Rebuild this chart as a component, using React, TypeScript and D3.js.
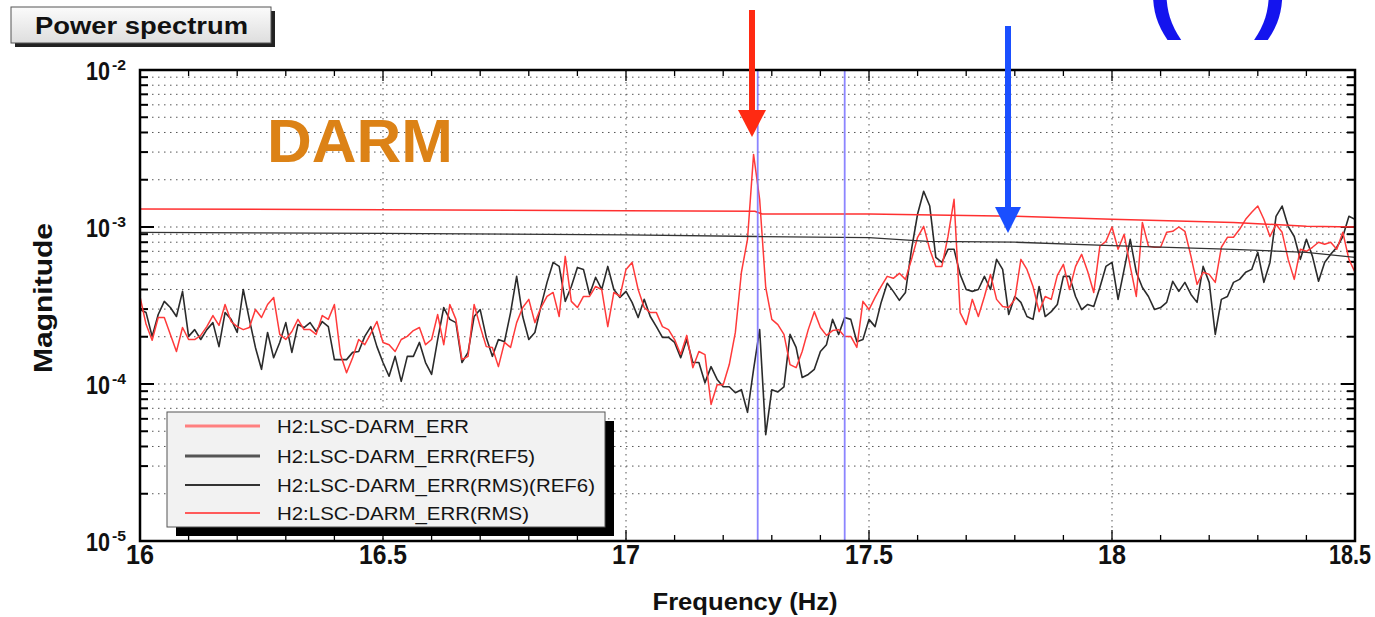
import React from "react";
import * as d3 from "d3";

// Spectrum bins: 16 Hz to 18.5 Hz, 0.0125 Hz apart
const FREQ_START = 16;
const FREQ_STEP = 0.0125;

// Magnitudes below are in units of 1e-4
const DARM_ERR = [
  3.6, 2.4, 1.9, 2.65, 2.65, 2.07, 1.61, 2.29, 1.92, 1.92,
  2.04, 2.32, 2.73, 2.36, 3.21, 2.5, 2.32, 2.22, 2.29, 2.98,
  2.65, 3.21, 3.56, 2.07, 1.92, 2.16, 2.58, 2.22, 2.22, 2.07,
  2.73, 2.58, 3.21, 1.54, 1.18, 1.47, 1.92, 1.78, 2.1, 2.5,
  1.84, 1.78, 1.61, 1.92, 2.01, 2.19, 2.29, 1.78, 1.92, 2.77,
  1.78, 3.21, 2.58, 1.43, 1.5, 3.21, 2.32, 1.73, 1.71, 1.29,
  1.84, 1.71, 2.46, 3.07, 3.46, 2.46, 3.07, 3.61, 3.83, 2.69,
  6.5, 3.36, 3.07, 3.61, 3.61, 4.18, 4.0, 2.32, 3.83, 3.61,
  5.37, 5.95, 4.0, 3.07, 2.85, 2.85, 2.32, 2.22, 1.92, 1.54,
  2.04, 1.27, 1.61, 1.54, 0.74, 0.99, 0.99, 1.33, 2.13, 5.15,
  8.35, 29, 15, 4.12, 2.58, 2.39, 2.07, 1.33, 1.27, 1.61,
  2.22, 2.89, 2.29, 2.04, 2.19, 2.22, 2.01, 2.01, 1.71, 3.36,
  2.98, 3.56, 4.18, 4.85, 4.71, 5.07, 4.64, 6.22, 8.6, 10.1,
  7.21, 5.61, 5.61, 8.7, 15.0, 2.85, 2.39, 3.46, 2.69, 3.61,
  4.99, 3.46, 3.12, 3.07, 3.46, 6.22, 5.37, 4.18, 2.89, 3.61,
  3.46, 4.92, 5.78, 4.0, 5.61, 6.7, 5.21, 3.83, 7.54, 8.1,
  10.0, 7.21, 8.98, 5.61, 3.61, 10.7, 7.54, 7.43, 7.43, 9.25,
  9.39, 10.0, 9.39, 6.5, 4.31, 5.15, 4.99, 4.44, 7.43, 8.6,
  8.6, 9.67, 11.2, 12.4, 13.6, 11.2, 8.7, 10.4, 9.25, 6.22,
  4.64, 7.21, 7.0, 7.43, 8.0, 7.76, 8.0, 7.21, 9.25, 6.22,
  5.15,
];

const DARM_ERR_REF5 = [
  2.98, 2.85, 2.01, 2.77, 3.36, 3.07, 2.69, 3.89, 2.01, 2.22,
  1.92, 2.22, 2.46, 1.73, 2.85, 2.58, 2.13, 4.0, 2.58, 1.71,
  1.24, 2.13, 1.47, 1.84, 2.46, 1.59, 2.39, 2.29, 2.46, 2.16,
  2.5, 2.32, 1.43, 1.43, 1.43, 1.59, 1.61, 2.01, 2.32, 1.73,
  1.37, 1.12, 1.5, 1.04, 1.5, 1.5, 1.84, 1.37, 1.15, 1.92,
  3.07, 2.58, 2.46, 1.37, 1.59, 2.69, 2.98, 1.98, 1.5, 1.92,
  1.86, 2.85, 4.85, 2.69, 1.92, 2.13, 3.12, 4.44, 5.95, 5.61,
  3.36, 4.18, 5.53, 5.37, 3.72, 4.78, 4.0, 5.61, 4.0, 3.56,
  3.89, 3.31, 2.65, 3.46, 2.69, 2.32, 1.98, 1.98, 1.84, 1.47,
  1.92, 1.37, 1.37, 1.02, 1.29, 1.07, 0.96, 0.96, 0.88, 0.92,
  0.66, 1.24, 2.22, 0.476, 0.92, 0.89, 0.96, 2.07, 1.71, 1.1,
  1.15, 1.24, 1.61, 1.78, 2.58, 2.07, 2.65, 2.58, 1.86, 1.92,
  2.58, 2.32, 3.31, 4.38, 3.89, 3.41, 3.83, 7.21, 12.1, 16.9,
  13.6, 6.4, 5.95, 7.21, 7.21, 4.99, 4.0, 3.89, 4.0, 4.85,
  4.0, 6.22, 5.37, 2.77, 3.61, 3.31, 2.69, 2.58, 4.18, 2.69,
  2.89, 3.21, 4.85, 4.85, 3.61, 2.98, 3.21, 3.12, 4.12, 5.61,
  5.95, 3.46, 5.37, 8.35, 5.15, 4.12, 3.61, 2.98, 3.07, 3.31,
  4.51, 3.89, 4.44, 3.72, 3.31, 5.61, 4.44, 2.07, 3.46, 3.61,
  4.44, 4.64, 5.15, 5.37, 6.9, 4.44, 5.95, 11.7, 13.6, 10.1,
  8.7, 6.22, 8.35, 6.5, 4.51, 5.95, 6.7, 7.43, 8.7, 11.7,
  11.2,
];

// Running RMS curves (frequency in Hz, magnitude in units of 1e-4)
const RMS_REF6_FREQ = [16.0, 16.5, 17.0, 17.27, 17.5, 17.62, 17.8, 18.0, 18.25, 18.4, 18.5];
const RMS_REF6 = [9.25, 9.1, 8.9, 8.7, 8.55, 8.1, 8.0, 7.6, 7.2, 6.9, 6.4];
const RMS_FREQ = [16.0, 16.5, 17.0, 17.265, 17.28, 17.5, 17.8, 18.0, 18.25, 18.4, 18.5];
const RMS = [13.0, 12.9, 12.7, 12.6, 12.1, 12.1, 11.7, 11.2, 10.7, 10.1, 10.0];

// Cursor lines
const CURSORS = [17.271, 17.45];

const X_TICKS = [16, 16.5, 17, 17.5, 18, 18.5];
const X_TICK_LABELS = ["16", "16.5", "17", "17.5", "18", "18.5"];
const Y_DECADES = [-2, -3, -4, -5];

const LEGEND_LABELS = [
  "H2:LSC-DARM_ERR",
  "H2:LSC-DARM_ERR(REF5)",
  "H2:LSC-DARM_ERR(RMS)(REF6)",
  "H2:LSC-DARM_ERR(RMS)",
];
const LEGEND_COLORS = ["#ff8080", "#555555", "#333333", "#ff5a5a"];
const LEGEND_WIDTHS = [3, 3, 1.8, 2.2];
const LEGEND_TEXT_LEN = [192, 258, 318, 252];

const SANS = "'Liberation Sans', Arial, Helvetica, sans-serif";

export default function App() {
  const W = 1375;
  const H = 617;
  const L = 140, R = 1355, T = 70, B = 541;
  const x = d3.scaleLinear().domain([16, 18.5]).range([L, R]);
  const y = d3.scaleLog().domain([1e-5, 1e-2]).range([B, T]);

  const binLine = d3
    .line<number>()
    .x((_, i) => x(FREQ_START + i * FREQ_STEP))
    .y((v) => y(v * 1e-4));

  const pairLine = (fs: number[], vs: number[]) =>
    d3
      .line<number>()
      .x((f) => x(f))
      .y((_, i) => y(vs[i] * 1e-4))(fs) || "";

  const minorY: number[] = [];
  for (let k = -5; k < -2; k++) {
    for (let m = 2; m <= 9; m++) minorY.push(m * Math.pow(10, k));
  }
  const decadeY = Y_DECADES.map((e) => Math.pow(10, e));
  const xMinor = d3.range(0, 26).map((i) => 16 + i * 0.1);

  return (
    <svg
      width={W}
      height={H}
      style={{ position: "absolute", left: 0, top: 0, background: "#fff" }}
      fontFamily={SANS}
    >
      <defs>
        <clipPath id="plotClip">
          <rect x={L} y={T} width={R - L} height={B - T} />
        </clipPath>
        <linearGradient id="titleFill" x1="0" y1="0" x2="0" y2="1">
          <stop offset="0" stopColor="#fbfbfb" />
          <stop offset="1" stopColor="#dedede" />
        </linearGradient>
      </defs>

      {/* title box */}
      <rect x={15} y={11} width={260} height={36} fill="#222" />
      <rect x={11} y={7} width={260} height={36} fill="url(#titleFill)" stroke="#555" strokeWidth={1} />
      <text x={35} y={34} fontSize={23} fontWeight="bold" fill="#111" textLength={213} lengthAdjust="spacingAndGlyphs">
        Power spectrum
      </text>

      {/* grid */}
      <g stroke="#555" strokeWidth={1} strokeDasharray="1.5 4.5">
        {[...minorY, ...decadeY.slice(1, 3)].map((v, i) => (
          <line key={"gy" + i} x1={L} x2={R} y1={y(v)} y2={y(v)} />
        ))}
        {X_TICKS.slice(1, -1).map((f) => (
          <line key={"gx" + f} x1={x(f)} x2={x(f)} y1={T} y2={B} />
        ))}
      </g>

      {/* ticks */}
      <g stroke="#000" strokeWidth={1.3}>
        {xMinor.map((f, i) => {
          const len = i % 5 === 0 ? 11 : 6;
          return (
            <g key={"tx" + i}>
              <line x1={x(f)} x2={x(f)} y1={B} y2={B - len} />
              <line x1={x(f)} x2={x(f)} y1={T} y2={T + len} />
            </g>
          );
        })}
        {minorY.map((v, i) => (
          <g key={"ty" + i}>
            <line x1={L} x2={L + 8} y1={y(v)} y2={y(v)} strokeWidth={2} />
            <line x1={R} x2={R - 8} y1={y(v)} y2={y(v)} strokeWidth={2} />
          </g>
        ))}
        {decadeY.map((v, i) => (
          <g key={"tyd" + i}>
            <line x1={L} x2={L + 14} y1={y(v)} y2={y(v)} strokeWidth={2} />
            <line x1={R} x2={R - 14} y1={y(v)} y2={y(v)} strokeWidth={2} />
          </g>
        ))}
      </g>

      {/* traces */}
      <g clipPath="url(#plotClip)" fill="none" strokeLinejoin="round">
        <path d={binLine(DARM_ERR_REF5) || ""} stroke="#2b2b2b" strokeWidth={1.6} />
        <path d={binLine(DARM_ERR) || ""} stroke="#ff3a3a" strokeWidth={1.5} />
        <path d={pairLine(RMS_REF6_FREQ, RMS_REF6)} stroke="#333" strokeWidth={1.3} />
        <path d={pairLine(RMS_FREQ, RMS)} stroke="#ff3030" strokeWidth={1.5} />
        {CURSORS.map((f) => (
          <line key={"c" + f} x1={x(f)} x2={x(f)} y1={T} y2={B} stroke="#8078ff" strokeWidth={1.8} opacity={0.9} />
        ))}
      </g>

      {/* frame */}
      <rect x={L} y={T} width={R - L} height={B - T} fill="none" stroke="#000" strokeWidth={2.5} />

      {/* legend */}
      <rect x={176} y={421} width={438} height={115} fill="#000" />
      <rect x={167} y={412} width={438} height={115} fill="#f2f2f2" stroke="#555" strokeWidth={1} />
      {LEGEND_LABELS.map((lab, i) => {
        const ly = [426, 456, 485, 513][i];
        return (
          <g key={lab}>
            <line x1={185} x2={260} y1={ly} y2={ly} stroke={LEGEND_COLORS[i]} strokeWidth={LEGEND_WIDTHS[i]} />
            <text x={277} y={ly + 7} fontSize={18.5} fill="#151515" textLength={LEGEND_TEXT_LEN[i]} lengthAdjust="spacingAndGlyphs">
              {lab}
            </text>
          </g>
        );
      })}

      {/* x tick labels */}
      {X_TICKS.map((f, i) => {
        const wide = X_TICK_LABELS[i].length > 2;
        const last = i === X_TICKS.length - 1;
        return (
          <text
            key={"xl" + f}
            x={last ? 1371 : x(f)}
            y={564}
            fontSize={27}
            fontWeight="bold"
            textAnchor={last ? "end" : "middle"}
            fill="#111"
            textLength={wide ? (last ? 42 : 48) : 28}
            lengthAdjust="spacingAndGlyphs"
          >
            {X_TICK_LABELS[i]}
          </text>
        );
      })}

      {/* y tick labels: 10 with the exponent raised */}
      {Y_DECADES.map((e) => {
        const yy = y(Math.pow(10, e));
        return (
          <text key={"yl" + e} x={86} y={yy + 10} fill="#111" fontWeight="bold" fontSize={25}>
            <tspan textLength={24} lengthAdjust="spacingAndGlyphs">10</tspan>
            <tspan x={112} dy={-10} fontSize={14} textLength={14} lengthAdjust="spacingAndGlyphs">
              {String(e)}
            </tspan>
          </text>
        );
      })}

      {/* axis titles */}
      <text x={745} y={610} fontSize={24} fontWeight="bold" textAnchor="middle" fill="#111" textLength={185} lengthAdjust="spacingAndGlyphs">
        Frequency (Hz)
      </text>
      <text
        transform="translate(52,298) rotate(-90)"
        fontSize={26}
        fontWeight="bold"
        textAnchor="middle"
        fill="#111"
        textLength={150}
        lengthAdjust="spacingAndGlyphs"
      >
        Magnitude
      </text>

      {/* annotations */}
      <text x={360} y={162} fontSize={62} fontWeight="bold" textAnchor="middle" fill="#dc8216">
        DARM
      </text>

      <line x1={752} x2={752} y1={10} y2={114} stroke="#ff2a12" strokeWidth={6} />
      <path d="M738,110 L766,110 L752,137 Z" fill="#ff2a12" />

      <line x1={1008} x2={1008} y1={26} y2={210} stroke="#1a4fff" strokeWidth={6} />
      <path d="M995,207 L1021,207 L1008,233 Z" fill="#1a4fff" />

      <text x={1148} y={19} fontSize={100} fontWeight="bold" fill="#1414ee">
        (
      </text>
      <text x={1254} y={19} fontSize={100} fontWeight="bold" fill="#1414ee">
        )
      </text>
    </svg>
  );
}
